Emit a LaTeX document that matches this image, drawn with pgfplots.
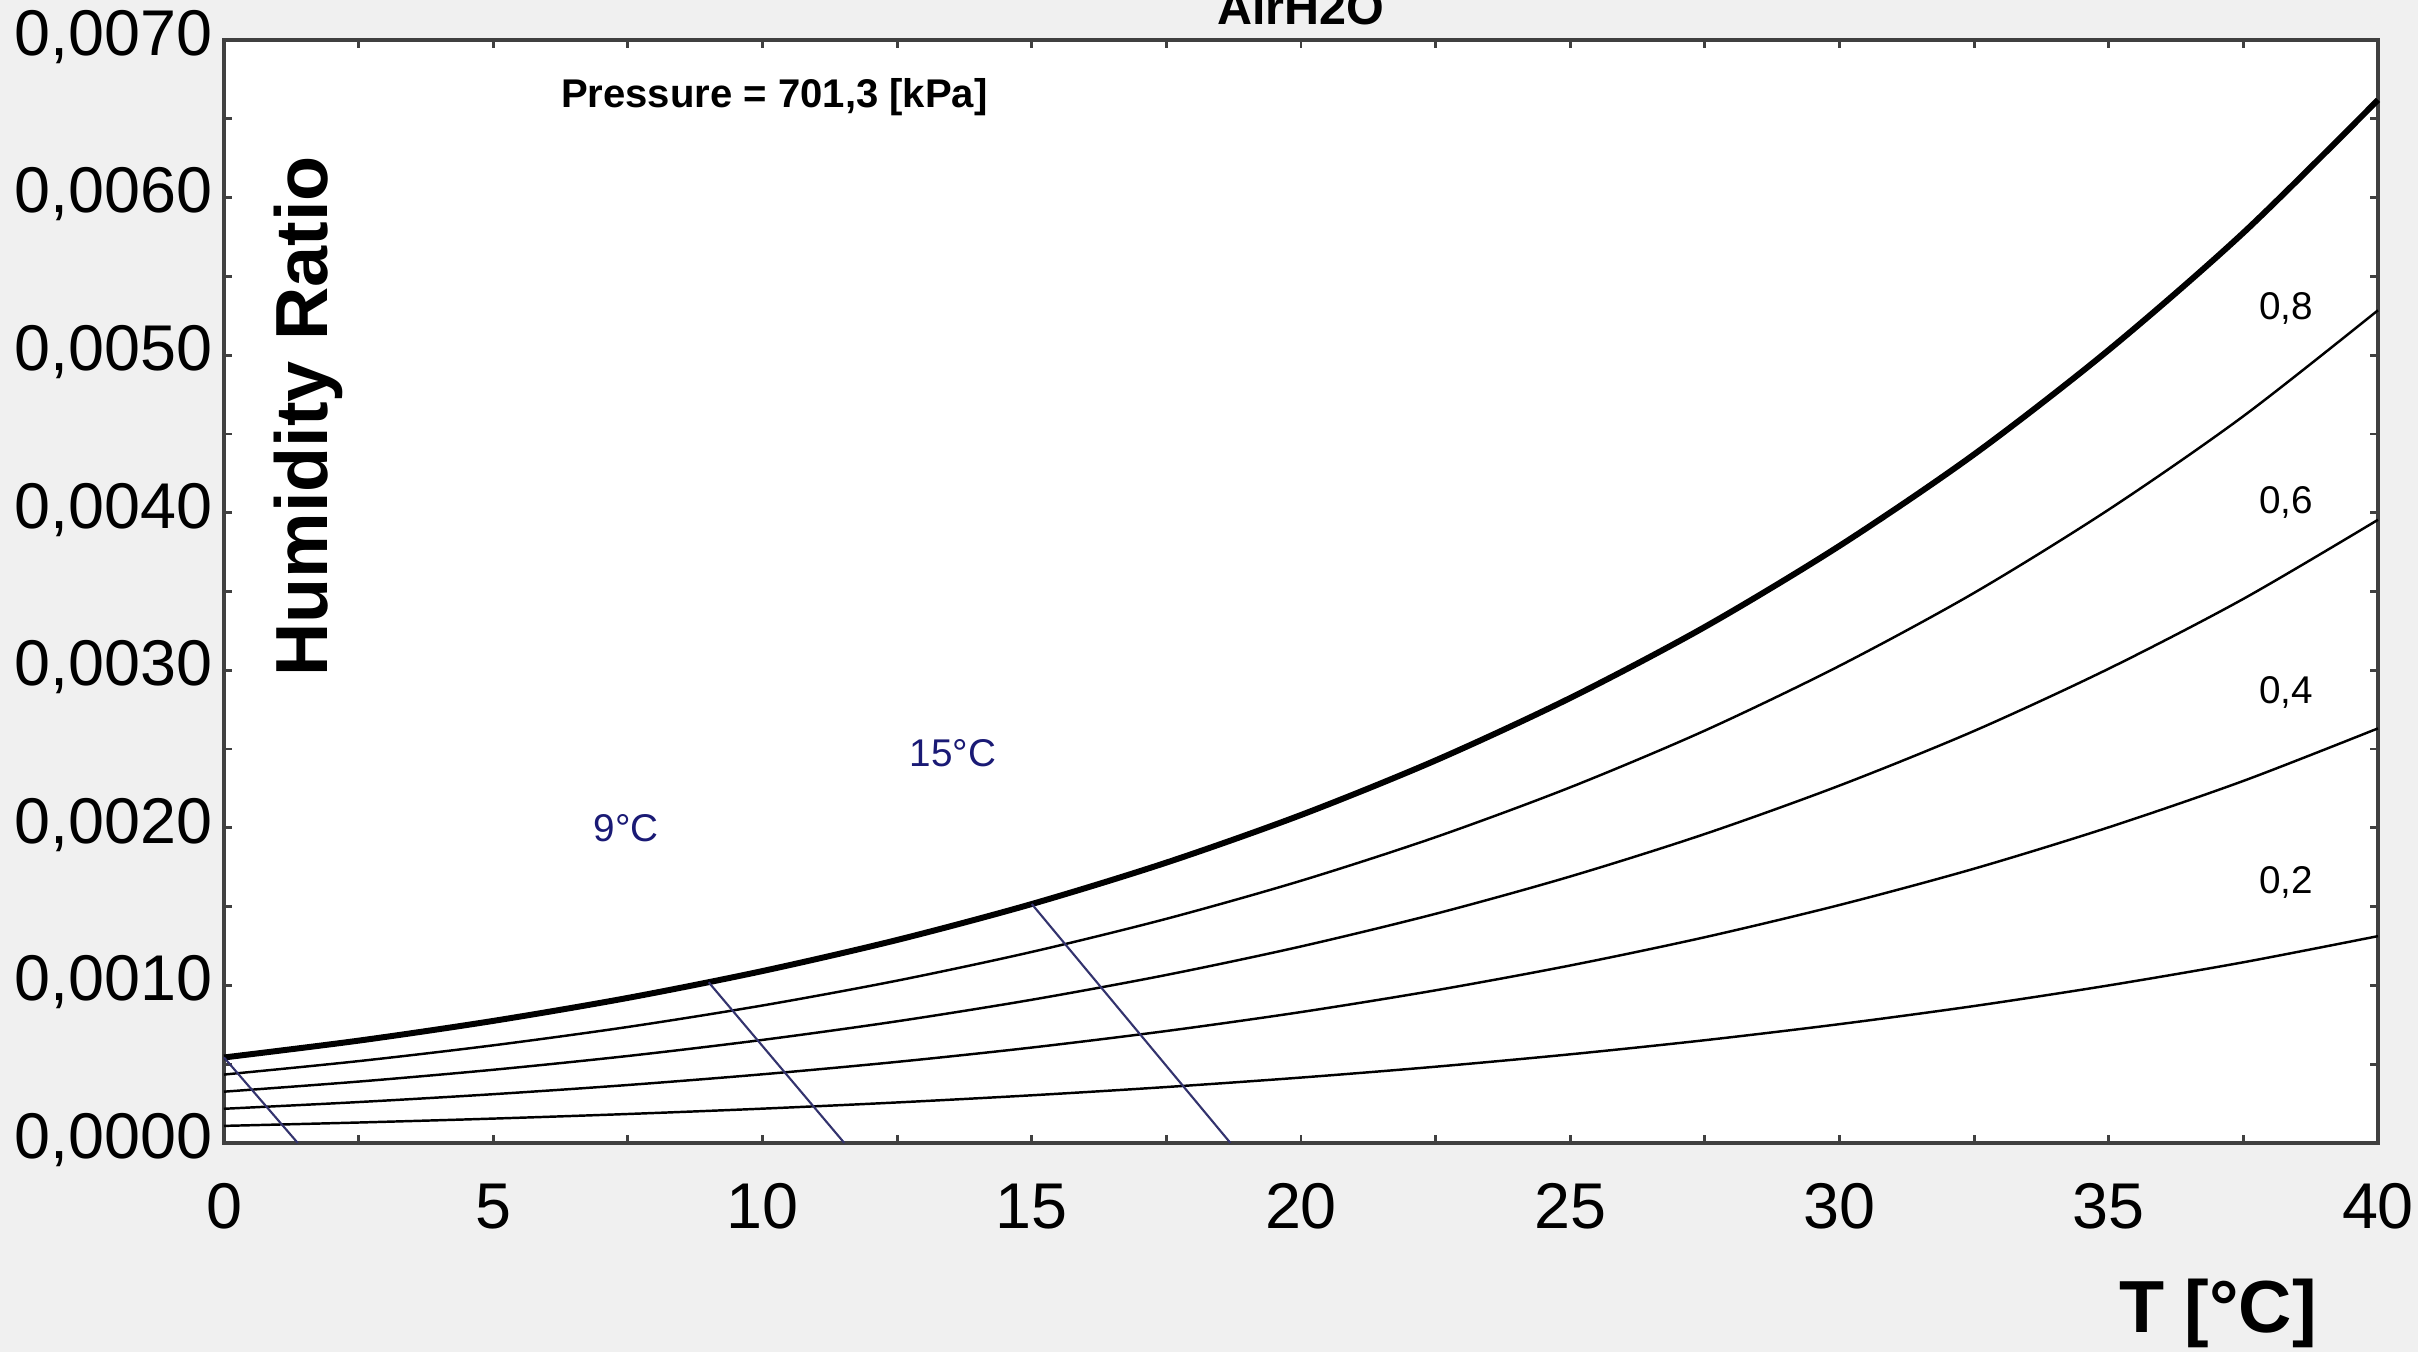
\documentclass[border=0pt]{standalone}
\usepackage{fontspec}
\setmainfont{Liberation Sans}
\usepackage{pgfplots}
\usepackage{pgfplotstable}
\pgfplotsset{compat=1.18}

\definecolor{PanelGray}{HTML}{F0F0F0}
\definecolor{FrameGray}{HTML}{404040}
\definecolor{WetBulb}{HTML}{33336E}
\definecolor{WetText}{HTML}{1A1A75}

% humidity ratio vs dry bulb T, one column per relative humidity
\pgfplotstableread{
T    s10       s08       s06       s04       s02
0    0.0005427 0.0004342 0.0003256 0.0002171 0.0001085
2.5  0.0006495 0.0005196 0.0003897 0.0002598 0.0001299
5    0.0007748 0.0006198 0.0004647 0.0003097 0.0001548
7.5  0.0009208 0.0007364 0.0005522 0.0003680 0.0001840
10   0.0010912 0.0008726 0.0006542 0.0004360 0.0002179
12.5 0.0012884 0.0010303 0.0007724 0.0005148 0.0002573
15   0.0015165 0.0012126 0.0009090 0.0006057 0.0003027
17.5 0.0017794 0.0014227 0.0010664 0.0007106 0.0003551
20   0.0020816 0.0016642 0.0012473 0.0008309 0.0004152
22.5 0.0024280 0.0019409 0.0014545 0.0009689 0.0004841
25   0.0028241 0.0022572 0.0016914 0.0011265 0.0005628
27.5 0.0032751 0.0026173 0.0019610 0.0013059 0.0006523
30   0.0037896 0.0030280 0.0022683 0.0015103 0.0007542
32.5 0.0043703 0.0034913 0.0026149 0.0017408 0.0008692
35   0.0050329 0.0040198 0.0030100 0.0020035 0.0010001
37.5 0.0057765 0.0046126 0.0034531 0.0022978 0.0011468
40   0.0066197 0.0052846 0.0039551 0.0026312 0.0013128
}\psytab

\begin{document}
\begin{tikzpicture}
  \fill[PanelGray] (-11.2mm,-10.45mm) rectangle (109.7mm,57.15mm);
  \begin{axis}[
      at={(0,0)}, anchor=south west,
      scale only axis, width=107.7mm, height=55.15mm,
      xmin=0, xmax=40, ymin=0, ymax=0.007,
      clip=false,
      axis background/.style={fill=white},
      xtick={0,5,10,15,20,25,30,35,40}, minor x tick num=1,
      ytick={0,0.001,0.002,0.003,0.004,0.005,0.006,0.007}, minor y tick num=1,
      scaled y ticks=false,
      tick align=inside,
      major tick length=0.4mm, minor tick length=0.4mm,
      tick style={FrameGray,line width=0.4pt},
      axis line style={FrameGray,line width=0.6pt},
      /pgf/number format/assume math mode=true,
      ticklabel style={font=\fontsize{9.2}{11}\selectfont},
      xticklabel style={yshift=-0.8mm},
      yticklabel style={xshift=0.65mm,yshift=0.15mm,
                        /pgf/number format/fixed,
                        /pgf/number format/fixed zerofill,
                        /pgf/number format/precision=4,
                        /pgf/number format/use comma},
    ]
    \addplot[black,line width=0.85pt,smooth] table[x=T,y=s10] {\psytab};
    \addplot[black,line width=0.35pt,smooth] table[x=T,y=s08] {\psytab};
    \addplot[black,line width=0.35pt,smooth] table[x=T,y=s06] {\psytab};
    \addplot[black,line width=0.35pt,smooth] table[x=T,y=s04] {\psytab};
    \addplot[black,line width=0.35pt,smooth] table[x=T,y=s02] {\psytab};

    % wet bulb lines
    \addplot[WetBulb,line width=0.3pt] coordinates {(0,0.000543) (1.37,0)};
    \addplot[WetBulb,line width=0.3pt] coordinates {(9.0,0.00102) (11.52,0)};
    \addplot[WetBulb,line width=0.3pt] coordinates {(15.0,0.001517) (18.69,0)};

    \node[font=\fontsize{5.5}{6}\selectfont,text=WetText] at (axis cs:7.47,0.001999) {9°C};
    \node[font=\fontsize{5.5}{6}\selectfont,text=WetText] at (axis cs:13.54,0.002475) {15°C};

    \node[font=\fontsize{5.5}{6}\selectfont] at (axis cs:38.29,0.005299) {0,8};
    \node[font=\fontsize{5.5}{6}\selectfont] at (axis cs:38.29,0.004068) {0,6};
    \node[font=\fontsize{5.5}{6}\selectfont] at (axis cs:38.29,0.002862) {0,4};
    \node[font=\fontsize{5.5}{6}\selectfont] at (axis cs:38.29,0.001656) {0,2};

    \node[font=\bfseries\fontsize{5.7}{7}\selectfont] at (axis cs:10.22,0.006637) {Pressure = 701,3 [kPa]};
    \node[font=\bfseries\fontsize{10.5}{12}\selectfont,rotate=90] at (axis cs:1.575,0.004611) {Humidity Ratio};
    \node[font=\bfseries\fontsize{10.5}{12}\selectfont,anchor=base,yshift=-9.5mm] at (axis cs:37.03,0) {T [°C]};
    \node[font=\bfseries\fontsize{6.9}{8}\selectfont,anchor=base,yshift=0.75mm] at (axis cs:20,0.007) {AirH2O};
  \end{axis}
  \pgfresetboundingbox
  \useasboundingbox (-11.2mm,-10.45mm) rectangle (109.7mm,57.15mm);
\end{tikzpicture}
\end{document}
